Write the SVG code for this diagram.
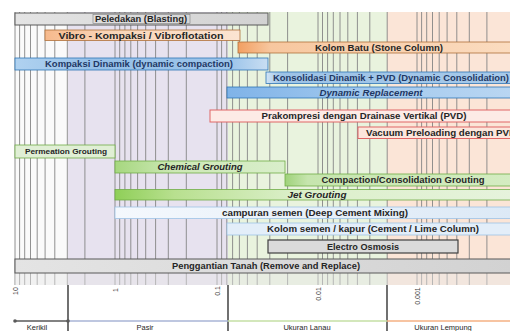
<svg xmlns="http://www.w3.org/2000/svg" width="510" height="331" viewBox="0 0 510 331">
<defs>
<style>
.t{font-family:"Liberation Sans",Arial,sans-serif;font-weight:bold;font-size:9px;fill:#262626;text-anchor:middle}
.tb{fill:#1f3864}
.it{font-style:italic}
.ax{font-family:"Liberation Sans",Arial,sans-serif;font-size:7px;fill:#404040;text-anchor:middle}
.bl{font-family:"Liberation Sans",Arial,sans-serif;font-size:7.5px;fill:#262626;text-anchor:middle}
.grey{stroke:#595959;stroke-width:1}
.or{stroke:#b0703a;stroke-width:0.8}
.bu{stroke:#2e75b6;stroke-width:0.8}
.pk{stroke:#e06666;stroke-width:1}
.gr{stroke:#70ad47;stroke-width:0.8}
.lb{stroke:#9dc3e6;stroke-width:0.8}
</style>
<linearGradient id="gGrey" x1="0" x2="1"><stop offset="0" stop-color="#e4e4e4"/><stop offset="1" stop-color="#d2d2d2"/></linearGradient>
<linearGradient id="gVib" x1="0" x2="1"><stop offset="0" stop-color="#f6b98c"/><stop offset="0.3" stop-color="#f9d4b6"/><stop offset="1" stop-color="#fbe4d2"/></linearGradient>
<linearGradient id="gKB" x1="0" x2="1"><stop offset="0" stop-color="#f29f62"/><stop offset="0.12" stop-color="#f7c79f"/><stop offset="1" stop-color="#fbdcc0"/></linearGradient>
<linearGradient id="gBlue" x1="0" x2="1"><stop offset="0" stop-color="#b0d2f0"/><stop offset="0.3" stop-color="#96c0e8"/><stop offset="0.85" stop-color="#9cc4ea"/><stop offset="1" stop-color="#c9def2"/></linearGradient>
<linearGradient id="gBlue2" x1="0" x2="1"><stop offset="0" stop-color="#d2e5f6"/><stop offset="0.06" stop-color="#9dc3e6"/><stop offset="1" stop-color="#a6c9ea"/></linearGradient>
<linearGradient id="gDR" x1="0" x2="1"><stop offset="0" stop-color="#7fb3e8"/><stop offset="0.5" stop-color="#a3c9ee"/><stop offset="1" stop-color="#b9d6f2"/></linearGradient>
<linearGradient id="gChem" x1="0" x2="1"><stop offset="0" stop-color="#a6d77f"/><stop offset="0.35" stop-color="#cde8b6"/><stop offset="1" stop-color="#d9eecb"/></linearGradient>
<linearGradient id="gComp" x1="0" x2="1"><stop offset="0" stop-color="#9fd27a"/><stop offset="0.1" stop-color="#c6e5ae"/><stop offset="1" stop-color="#d4ecc2"/></linearGradient>
<linearGradient id="gJet" x1="0" x2="1"><stop offset="0" stop-color="#8fcf58"/><stop offset="0.15" stop-color="#b8e08f"/><stop offset="0.45" stop-color="#dbefc9"/><stop offset="1" stop-color="#e6f3dc"/></linearGradient>
<linearGradient id="gDCM" x1="0" x2="1"><stop offset="0" stop-color="#f4f8fd"/><stop offset="1" stop-color="#dce9f6"/></linearGradient>
</defs>

<g id="background">
<rect x="0" y="0" width="510" height="331" fill="#ffffff"/>
<rect x="15" y="12" width="53" height="273" fill="#fafafa"/>
<rect x="68" y="12" width="160" height="273" fill="#e7e2ef"/>
<rect x="228" y="12" width="159" height="273" fill="#e9f3de"/>
<rect x="387" y="12" width="123" height="273" fill="#fbe5d7"/>
<path d="M15 12V285M19.6 12V285M24.7 12V285M30.5 12V285M37.2 12V285M45.1 12V285M54.8 12V285M67.3 12V285M84.9 12V285M115 12V285M119.7 12V285M124.9 12V285M130.8 12V285M137.6 12V285M145.7 12V285M155.6 12V285M168.3 12V285M186.3 12V285M217 12V285M221.6 12V285M226.8 12V285M232.6 12V285M239.4 12V285M247.4 12V285M257.2 12V285M269.8 12V285M287.6 12V285M318 12V285M322.5 12V285M327.6 12V285M333.3 12V285M340 12V285M347.8 12V285M357.4 12V285M369.8 12V285M387.2 12V285M417 12V285M421.6 12V285M426.7 12V285M432.5 12V285M439.2 12V285M447.1 12V285M456.8 12V285M469.3 12V285M486.9 12V285" stroke="#858585" stroke-width="0.9" fill="none"/>
<rect x="15" y="273" width="495" height="12" fill="#e6e6e6" opacity="0.45"/>
</g>

<g id="n-peledakan"><rect x="15" y="13" width="253" height="12" fill="url(#gGrey)" class="grey"/><rect x="93" y="14.5" width="97" height="9" fill="none" stroke="#7f7f7f" stroke-width="0.6"/><text class="t" x="141" y="22.3" textLength="92" lengthAdjust="spacingAndGlyphs">Peledakan (Blasting)</text></g>
<g id="n-vibro"><rect x="45" y="30" width="195" height="10.5" fill="url(#gVib)" class="or"/><text class="t" x="141" y="38.6" textLength="165" lengthAdjust="spacingAndGlyphs">Vibro - Kompaksi / Vibroflotation</text></g>
<g id="n-kolombatu"><rect x="238" y="42" width="274" height="11" fill="url(#gKB)" class="or"/><text class="t" x="379" y="50.8" textLength="128" lengthAdjust="spacingAndGlyphs">Kolom Batu (Stone Column)</text></g>
<g id="n-kompaksi"><rect x="15" y="58" width="253" height="12" fill="url(#gBlue)" class="bu"/><text class="t tb" x="139" y="67.2" textLength="188" lengthAdjust="spacingAndGlyphs">Kompaksi Dinamik (dynamic compaction)</text></g>
<g id="n-konsolidasi"><rect x="266" y="72" width="246" height="11.5" fill="url(#gBlue2)" class="bu"/><text class="t tb" x="391" y="81" textLength="236" lengthAdjust="spacingAndGlyphs">Konsolidasi Dinamik + PVD (Dynamic Consolidation)</text></g>
<g id="n-dynrep"><rect x="227" y="87" width="285" height="11" fill="url(#gDR)" class="bu"/><text class="t tb it" x="371" y="95.8" textLength="103" lengthAdjust="spacingAndGlyphs">Dynamic Replacement</text></g>
<g id="n-prakompresi"><rect x="210" y="110" width="302" height="12" fill="#fdebe6" class="pk"/><text class="t" x="364" y="119.2" textLength="205" lengthAdjust="spacingAndGlyphs">Prakompresi dengan Drainase Vertikal (PVD)</text></g>
<g id="n-vacuum"><rect x="358" y="127" width="154" height="11.5" fill="#fce6dc" class="pk"/><text class="t" x="366" y="136" style="text-anchor:start" textLength="150" lengthAdjust="spacingAndGlyphs">Vacuum Preloading dengan PVD</text></g>
<g id="n-permeation"><rect x="15" y="145" width="100" height="13" fill="#e0efd5" class="gr"/><text class="t" x="66" y="154.3" style="font-size:7.5px" textLength="82" lengthAdjust="spacingAndGlyphs">Permeation Grouting</text></g>
<g id="n-chemical"><rect x="115" y="161" width="170" height="12" fill="url(#gChem)" class="gr"/><text class="t it" x="200" y="170.2" textLength="85" lengthAdjust="spacingAndGlyphs">Chemical Grouting</text></g>
<g id="n-compaction"><rect x="285" y="174" width="227" height="12" fill="url(#gComp)" class="gr"/><text class="t" x="403" y="183.2" textLength="163" lengthAdjust="spacingAndGlyphs">Compaction/Consolidation Grouting</text></g>
<g id="n-jet"><rect x="115" y="189.5" width="397" height="10.5" fill="url(#gJet)" class="gr"/><text class="t it" x="317" y="198" textLength="59" lengthAdjust="spacingAndGlyphs">Jet Grouting</text></g>
<g id="n-dcm"><rect x="115" y="207" width="397" height="11.5" fill="url(#gDCM)" class="lb"/><text class="t" x="315" y="216" textLength="186" lengthAdjust="spacingAndGlyphs">campuran semen (Deep Cement Mixing)</text></g>
<g id="n-kolomsemen"><rect x="227" y="223" width="285" height="12" fill="#e3eef9" class="lb"/><text class="t" x="373" y="232.2" textLength="212" lengthAdjust="spacingAndGlyphs">Kolom semen / kapur (Cement / Lime Column)</text></g>
<g id="n-electro"><rect x="268" y="240" width="190" height="13" fill="#dadada" stroke="#404040" stroke-width="1.2"/><text class="t" x="363" y="249.6" textLength="72" lengthAdjust="spacingAndGlyphs">Electro Osmosis</text></g>
<g id="n-penggantian"><rect x="15" y="259" width="497" height="14" fill="url(#gGrey)" class="grey"/><text class="t" x="266" y="269.2" textLength="188" lengthAdjust="spacingAndGlyphs">Penggantian Tanah (Remove and Replace)</text></g>

<g id="connectors">
<path d="M68 285V331M228 285V331M387 285V331" stroke="#262626" stroke-width="1.3" fill="none"/>
<path d="M15 321H68" stroke="#595959" stroke-width="1.5"/>
<path d="M68 321H228" stroke="#a9b4d6" stroke-width="1.5"/>
<path d="M228 321H387" stroke="#c5dfa5" stroke-width="1.5"/>
<path d="M387 321H510" stroke="#f4b183" stroke-width="1.5"/>
<circle cx="15" cy="321" r="1.8" fill="#595959"/>
<circle cx="68" cy="321" r="1.8" fill="#595959"/>
</g>

<g id="axis-labels">
<text class="ax" transform="translate(17.5 291) rotate(-90)">10</text>
<text class="ax" transform="translate(117.5 290) rotate(-90)">1</text>
<text class="ax" transform="translate(219.5 291) rotate(-90)">0.1</text>
<text class="ax" transform="translate(320.5 294) rotate(-90)">0.01</text>
<text class="ax" transform="translate(419.5 296) rotate(-90)">0.001</text>
<text class="bl" x="37" y="329.5">Kerikil</text>
<text class="bl" x="145" y="329.5">Pasir</text>
<text class="bl" x="307" y="329.5">Ukuran Lanau</text>
<text class="bl" x="443" y="329.5">Ukuran Lempung</text>
</g>
</svg>
